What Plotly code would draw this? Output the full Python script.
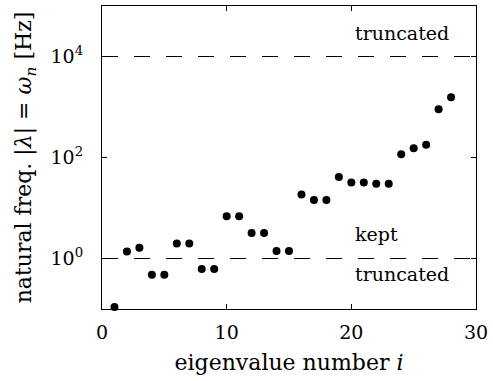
import plotly.graph_objects as go

# eigenvalue index and natural frequency magnitude (Hz)
eig_index = list(range(1, 29))
nat_freq = [0.11, 1.38, 1.63, 0.475, 0.475, 1.99, 1.99, 0.62, 0.62, 6.9,
            6.9, 3.2, 3.2, 1.4, 1.4, 18.6, 14.4, 14.4, 41.0, 32.0,
            32.0, 30.3, 30.3, 116.0, 152.0, 178.0, 904.0, 1564.0]

# truncation thresholds (Hz)
lower_cut = 1.0
upper_cut = 1.0e4

x_ticks = [0, 10, 20, 30]
y_tickvals = [1, 100, 10000]
y_ticktext = ["10<sup>0</sup>", "10<sup>2</sup>", "10<sup>4</sup>"]

FONT = "DejaVu Serif"
FS = 18

fig = go.Figure()

for level in (lower_cut, upper_cut):
    fig.add_trace(go.Scatter(
        x=[0, 30], y=[level, level], mode="lines",
        line=dict(color="black", width=1.2, dash="16px,16px"),
        hoverinfo="skip", showlegend=False,
    ))

fig.add_trace(go.Scatter(
    x=eig_index, y=nat_freq, mode="markers",
    marker=dict(color="black", size=8),
    showlegend=False, cliponaxis=False,
))

fig.add_annotation(x=20.1, y=4.46, xref="x", yref="y", text="truncated",
                   showarrow=False, xanchor="left", yanchor="middle",
                   font=dict(size=19))
fig.add_annotation(x=20.1, y=0.49, xref="x", yref="y", text="kept",
                   showarrow=False, xanchor="left", yanchor="middle",
                   font=dict(size=19))
fig.add_annotation(x=20.1, y=-0.30, xref="x", yref="y", text="truncated",
                   showarrow=False, xanchor="left", yanchor="middle",
                   font=dict(size=19))

fig.update_layout(
    width=493, height=381,
    margin=dict(l=102, r=13, t=5, b=72),
    paper_bgcolor="white", plot_bgcolor="white",
    font=dict(family=FONT, size=FS, color="black"),
    xaxis=dict(
        range=[0, 30], tickvals=x_ticks, ticks="inside", ticklen=5,
        tickcolor="black", mirror="allticks", showline=True,
        linecolor="black", linewidth=1.2, showgrid=False, zeroline=False,
        ticklabelstandoff=6, tickfont=dict(size=19),
        title=dict(text="eigenvalue number <i>i</i>", standoff=12),
    ),
    yaxis=dict(
        type="log", range=[-1, 5], tickvals=y_tickvals, ticktext=y_ticktext,
        ticks="inside", ticklen=5, tickcolor="black", mirror="allticks",
        showline=True, linecolor="black", linewidth=1.2, showgrid=False,
        zeroline=False, ticklabelstandoff=14, tickfont=dict(size=19),
        title=dict(text="natural freq. |<i>λ</i>| = <i>ω<sub>n</sub></i> [Hz]",
                   standoff=12),
    ),
)

fig.write_html("out.html")
